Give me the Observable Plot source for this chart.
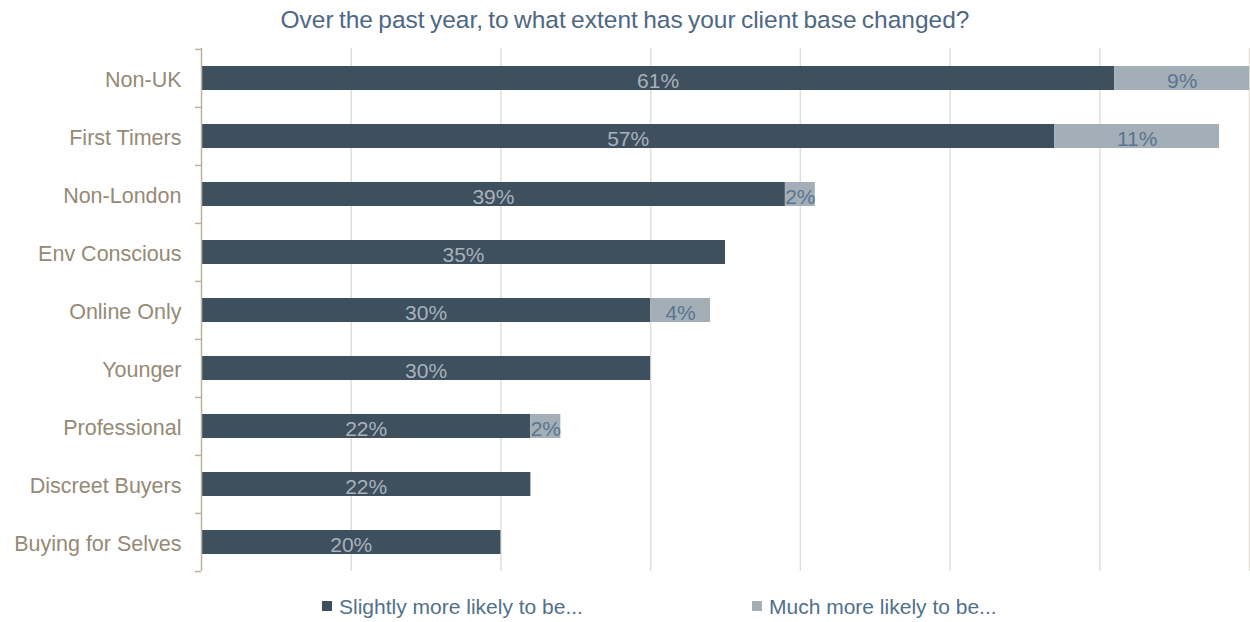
<!DOCTYPE html>
<html>
<head>
<meta charset="utf-8">
<script src="https://cdn.jsdelivr.net/npm/d3@7"></script>
<script src="https://cdn.jsdelivr.net/npm/@observablehq/plot@0.6"></script>
<style>
  html, body { margin: 0; padding: 0; background: #fff; }
  body { width: 1250px; height: 622px; position: relative; overflow: hidden; font-family: "Liberation Sans", Arial, sans-serif; }
  #title { position: absolute; left: 0; top: 0; width: 1250px; height: 40px; text-align: center; font-size: 24.5px; line-height: 40px; color: #4e6884; word-spacing: -1.5px; }
  #chart { position: absolute; left: 0; top: 40px; }
  #legend { position: absolute; left: 0; top: 590px; width: 1250px; height: 32px; font-size: 21px; color: #52708c; }
  .item { position: absolute; top: 5px; display: flex; align-items: center; white-space: nowrap; }
  .sw { width: 10px; height: 10px; margin-right: 7px; margin-top: -2px; }
</style>
</head>
<body>
<div id="title">Over the past year, to what extent has your client base changed?</div>
<div id="chart"></div>
<div id="legend"></div>
<script>
const categories = ["Non-UK", "First Timers", "Non-London", "Env Conscious", "Online Only", "Younger", "Professional", "Discreet Buyers", "Buying for Selves"];
const seriesNames = ["Slightly more likely to be...", "Much more likely to be..."];
const slightly = [61, 57, 39, 35, 30, 30, 22, 22, 20];
const much = [9, 11, 2, 0, 4, 0, 2, 0, 0];
const seriesColors = ["#3e4f5e", "#a3aeb6"];
const labelColors = ["#a7b2bc", "#5a7591"];
const xTicks = [10, 20, 30, 40, 50, 60, 70];

const table = [];
categories.forEach((c, i) => table.push({cat: c, series: seriesNames[0], value: slightly[i], k: 0}));
categories.forEach((c, i) => table.push({cat: c, series: seriesNames[1], value: much[i], k: 1}));

const H = 550, MT = 8, MB = 19;
const step = (H - MT - MB) / categories.length;

const plot = Plot.plot({
  width: 1250,
  height: H,
  marginLeft: 201,
  marginRight: 1,
  marginTop: MT,
  marginBottom: MB,
  style: {fontFamily: "'Liberation Sans', Arial, sans-serif", background: "#fff"},
  x: {domain: [0, 70], axis: null},
  y: {domain: categories, paddingInner: 0.59, paddingOuter: 0.295, axis: null},
  color: {domain: seriesNames, range: seriesColors},
  marks: [
    Plot.ruleX(xTicks, {stroke: "#e3ded4", strokeWidth: 1.5}),
    Plot.barX(table, {x: "value", y: "cat", fill: "series"}),
    Plot.ruleX([0], {stroke: "#bfb39c", strokeWidth: 1.5}),
    Plot.ruleY(categories, {y: d => d, x1: 0, x2: 0, insetLeft: -6, dy: -step / 2, stroke: "#bfb39c", strokeWidth: 1.5}),
    Plot.ruleY(categories.slice(-1), {y: d => d, x1: 0, x2: 0, insetLeft: -6, dy: step / 2, stroke: "#bfb39c", strokeWidth: 1.5}),
    Plot.axisY({tickSize: 0, tickPadding: 20, fontSize: 21.5, color: "#958a76", label: null, dy: 2}),
    Plot.text(table.filter(d => d.value > 0), Plot.stackX({
      x: "value", y: "cat", z: "series",
      text: d => d.value + "%",
      fill: d => labelColors[d.k],
      fontSize: 21,
      dy: 3
    }))
  ]
});
document.getElementById("chart").appendChild(plot);

const legend = document.getElementById("legend");
const legendX = [322, 752];
seriesNames.forEach((s, i) => {
  const it = document.createElement("div");
  it.className = "item";
  it.style.left = legendX[i] + "px";
  const sw = document.createElement("span");
  sw.className = "sw";
  sw.style.background = seriesColors[i];
  const tx = document.createElement("span");
  tx.textContent = s;
  it.appendChild(sw);
  it.appendChild(tx);
  legend.appendChild(it);
});
</script>
</body>
</html>
